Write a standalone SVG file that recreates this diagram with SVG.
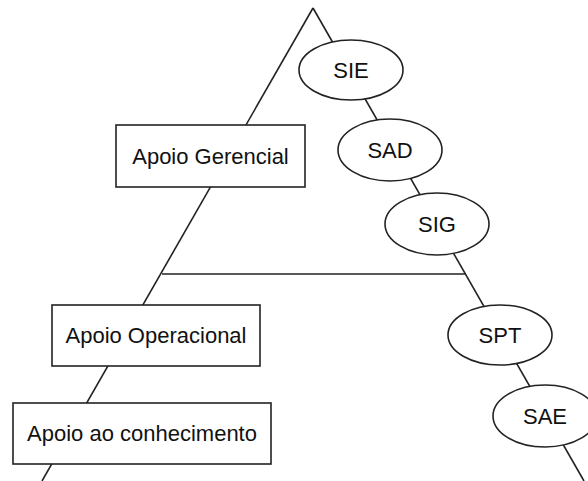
<svg xmlns="http://www.w3.org/2000/svg" width="588" height="481" viewBox="0 0 588 481">
<style>
.ln{stroke:#222;stroke-width:1.6;fill:none}
.bx{fill:#fff;stroke:#222;stroke-width:1.6}
.t{font-family:"Liberation Sans",Arial,sans-serif;font-size:22px;fill:#111;text-anchor:middle}
</style>
<rect width="588" height="481" fill="#fff"/>
<g id="connectors">
<line class="ln" x1="313" y1="8" x2="42" y2="481"/>
<line class="ln" x1="313" y1="8" x2="584" y2="481"/>
<line class="ln" x1="162" y1="274" x2="465" y2="274"/>
</g>
<g id="apoio-gerencial"><rect class="bx" x="116" y="125" width="189" height="62"/><text class="t" x="210.5" y="164">Apoio Gerencial</text></g>
<g id="apoio-operacional"><rect class="bx" x="52" y="305" width="208" height="61"/><text class="t" x="156" y="343">Apoio Operacional</text></g>
<g id="apoio-conhecimento"><rect class="bx" x="13" y="403" width="258" height="61"/><text class="t" x="142" y="441">Apoio ao conhecimento</text></g>
<g id="sie"><ellipse class="bx" cx="351" cy="70" rx="52" ry="30"/><text class="t" x="351" y="78">SIE</text></g>
<g id="sad"><ellipse class="bx" cx="390" cy="150" rx="52" ry="31"/><text class="t" x="390" y="158">SAD</text></g>
<g id="sig"><ellipse class="bx" cx="437" cy="224" rx="52" ry="31"/><text class="t" x="437" y="232">SIG</text></g>
<g id="spt"><ellipse class="bx" cx="500" cy="335" rx="52" ry="30"/><text class="t" x="500" y="343">SPT</text></g>
<g id="sae"><ellipse class="bx" cx="545" cy="416" rx="52" ry="31"/><text class="t" x="545" y="424">SAE</text></g>
</svg>
